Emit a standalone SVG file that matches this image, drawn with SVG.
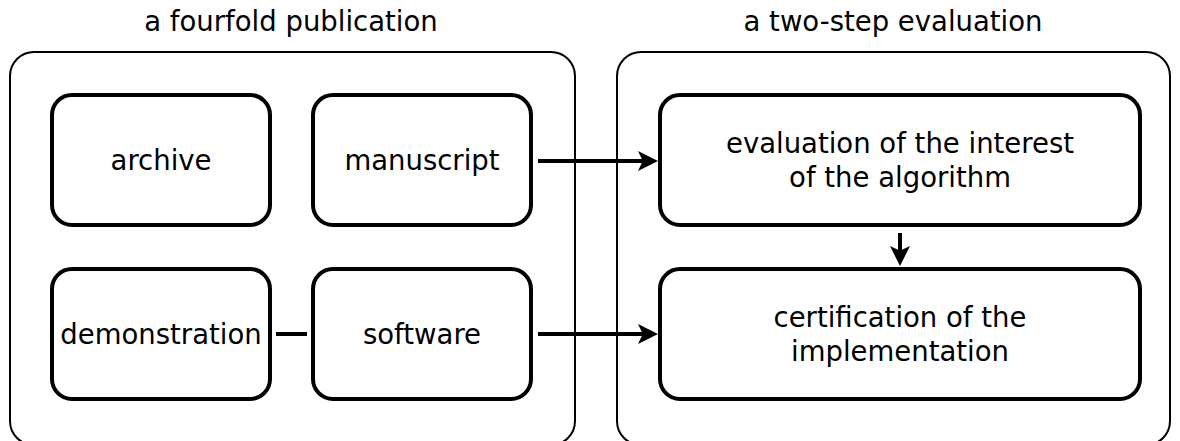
<svg xmlns="http://www.w3.org/2000/svg" width="1180" height="441" viewBox="0 0 1180 441">
<style>
text{font-family:"DejaVu Sans",sans-serif;font-size:27.5px;fill:#000;text-anchor:middle}
.outer{fill:none;stroke:#000;stroke-width:2}
.node{fill:#fff;stroke:#000;stroke-width:4}
.conn{stroke:#000;stroke-width:4;fill:none}
</style>
<defs>
<marker id="ah" markerWidth="6" markerHeight="6" refX="2" refY="3" orient="auto" markerUnits="strokeWidth">
<path d="M0,0.5 L5,3 L0,5.5 L1.2,3 Z" fill="#000"/>
</marker>
</defs>
<g id="group-publication">
<rect class="outer" x="10" y="52" width="565" height="393" rx="24"/>
<text x="291" y="31">a fourfold publication</text>
</g>
<g id="group-evaluation">
<rect class="outer" x="617" y="52" width="553" height="393" rx="24"/>
<text x="893" y="31">a two-step evaluation</text>
</g>
<g id="archive">
<rect class="node" x="52" y="95" width="218" height="130" rx="20"/>
<text x="161" y="170">archive</text>
</g>
<g id="manuscript">
<rect class="node" x="313" y="95" width="218" height="130" rx="20"/>
<text x="422" y="170">manuscript</text>
</g>
<g id="demonstration">
<rect class="node" x="52" y="269" width="218" height="130" rx="20"/>
<text x="161" y="344">demonstration</text>
</g>
<g id="software">
<rect class="node" x="313" y="269" width="218" height="130" rx="20"/>
<text x="422" y="344">software</text>
</g>
<g id="interest">
<rect class="node" x="660" y="95" width="480" height="130" rx="20"/>
<text x="900" y="153">evaluation of the interest</text>
<text x="900" y="187">of the algorithm</text>
</g>
<g id="certification">
<rect class="node" x="660" y="269" width="480" height="130" rx="20"/>
<text x="900" y="327">certification of the</text>
<text x="900" y="361">implementation</text>
</g>
<g id="connectors">
<line class="conn" x1="538" y1="161" x2="646" y2="161" marker-end="url(#ah)"/>
<line class="conn" x1="538" y1="334" x2="646" y2="334" marker-end="url(#ah)"/>
<line class="conn" x1="900" y1="233" x2="900" y2="254" marker-end="url(#ah)"/>
<line class="conn" x1="276" y1="334" x2="307" y2="334"/>
</g>
</svg>
